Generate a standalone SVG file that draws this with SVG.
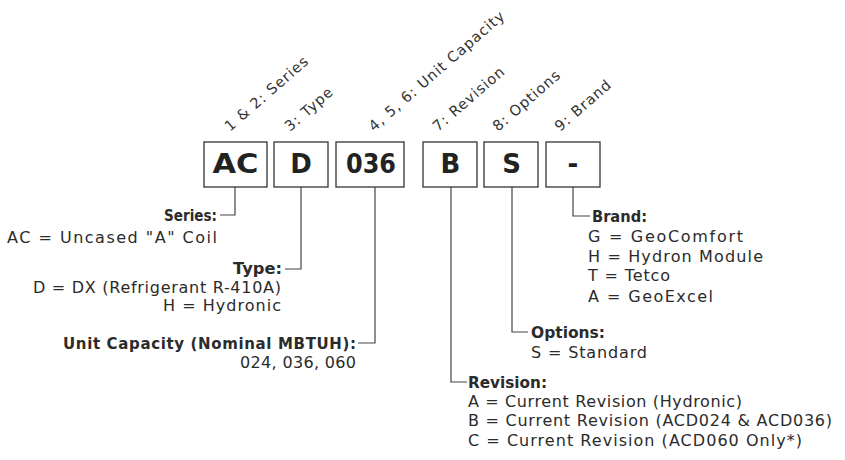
<svg xmlns="http://www.w3.org/2000/svg" width="845" height="460" viewBox="0 0 845 460">
<style>
  text { font-family: "DejaVu Sans", "Noto Sans", sans-serif; fill: #2b2b2b; }
  .lbl { font-size: 14.5px; font-weight: normal; fill: #333; letter-spacing: 1px; }
  .code { font-size: 26px; font-weight: bold; text-anchor: middle; fill: #222; }
  .box { fill: #fff; stroke: #333; stroke-width: 1.3; }
  .hd { font-size: 15px; font-weight: bold; }
  .tx { font-size: 16px; }
  .r { text-anchor: end; }
  .conn path { fill: none; stroke: #444; stroke-width: 1.2; }
</style>
<rect width="845" height="460" fill="#fff"/>

<g id="labels">
  <text class="lbl" transform="translate(230,132) rotate(-41)">1 &amp; 2: Series</text>
  <text class="lbl" transform="translate(290,132) rotate(-41)">3: Type</text>
  <text class="lbl" transform="translate(374,132) rotate(-41)">4, 5, 6: Unit Capacity</text>
  <text class="lbl" transform="translate(438,132) rotate(-41)">7: Revision</text>
  <text class="lbl" transform="translate(498,132) rotate(-41)">8: Options</text>
  <text class="lbl" transform="translate(560,132) rotate(-41)">9: Brand</text>
</g>

<g id="box-series"><rect class="box" x="204" y="142" width="63" height="45"/><text class="code" x="235.5" y="173" textLength="46" lengthAdjust="spacingAndGlyphs">AC</text></g>
<g id="box-type"><rect class="box" x="274" y="142" width="54" height="45"/><text class="code" x="301" y="173">D</text></g>
<g id="box-capacity"><rect class="box" x="336" y="142" width="68" height="45"/><text class="code" x="371" y="173" textLength="50" lengthAdjust="spacingAndGlyphs">036</text></g>
<g id="box-revision"><rect class="box" x="423" y="142" width="54" height="45"/><text class="code" x="450.5" y="173">B</text></g>
<g id="box-options"><rect class="box" x="484" y="142" width="54" height="45"/><text class="code" x="511.5" y="173">S</text></g>
<g id="box-brand"><rect class="box" x="546" y="142" width="54" height="45"/><text class="code" x="573" y="173">-</text></g>

<g class="conn" id="connectors">
  <path d="M235,187 V215 H220"/>
  <path d="M301,187 V269 H285"/>
  <path d="M375,187 V343 H358"/>
  <path d="M451,187 V382 H467"/>
  <path d="M512,187 V332 H528"/>
  <path d="M573,187 V216 H590"/>
</g>

<g id="desc-series">
  <text class="hd r" x="217" y="221" textLength="53" lengthAdjust="spacingAndGlyphs">Series:</text>
  <text class="tx r" x="217" y="243" textLength="210" lengthAdjust="spacing">AC = Uncased "A" Coil</text>
</g>
<g id="desc-type">
  <text class="hd r" x="282" y="274" textLength="49" lengthAdjust="spacingAndGlyphs">Type:</text>
  <text class="tx r" x="281" y="293" textLength="248" lengthAdjust="spacing">D = DX (Refrigerant R-410A)</text>
  <text class="tx r" x="281" y="311" textLength="118" lengthAdjust="spacing">H = Hydronic</text>
</g>
<g id="desc-capacity">
  <text class="hd r" x="356" y="349" textLength="293" lengthAdjust="spacing">Unit Capacity (Nominal MBTUH):</text>
  <text class="tx r" x="356" y="368" textLength="116" lengthAdjust="spacing">024, 036, 060</text>
</g>
<g id="desc-brand">
  <text class="hd" x="592" y="222" textLength="55" lengthAdjust="spacingAndGlyphs">Brand:</text>
  <text class="tx" x="588" y="242" textLength="155" lengthAdjust="spacing">G = GeoComfort</text>
  <text class="tx" x="588" y="262" textLength="175" lengthAdjust="spacing">H = Hydron Module</text>
  <text class="tx" x="588" y="281" textLength="82" lengthAdjust="spacing">T = Tetco</text>
  <text class="tx" x="588" y="302" textLength="125" lengthAdjust="spacing">A = GeoExcel</text>
</g>
<g id="desc-options">
  <text class="hd" x="531" y="338" textLength="74" lengthAdjust="spacingAndGlyphs">Options:</text>
  <text class="tx" x="531" y="358" textLength="116" lengthAdjust="spacing">S = Standard</text>
</g>
<g id="desc-revision">
  <text class="hd" x="468" y="388" textLength="79" lengthAdjust="spacingAndGlyphs">Revision:</text>
  <text class="tx" x="468" y="407" textLength="274" lengthAdjust="spacing">A = Current Revision (Hydronic)</text>
  <text class="tx" x="468" y="426" textLength="364" lengthAdjust="spacing">B = Current Revision (ACD024 &amp; ACD036)</text>
  <text class="tx" x="468" y="446" textLength="334" lengthAdjust="spacing">C = Current Revision (ACD060 Only*)</text>
</g>
</svg>
